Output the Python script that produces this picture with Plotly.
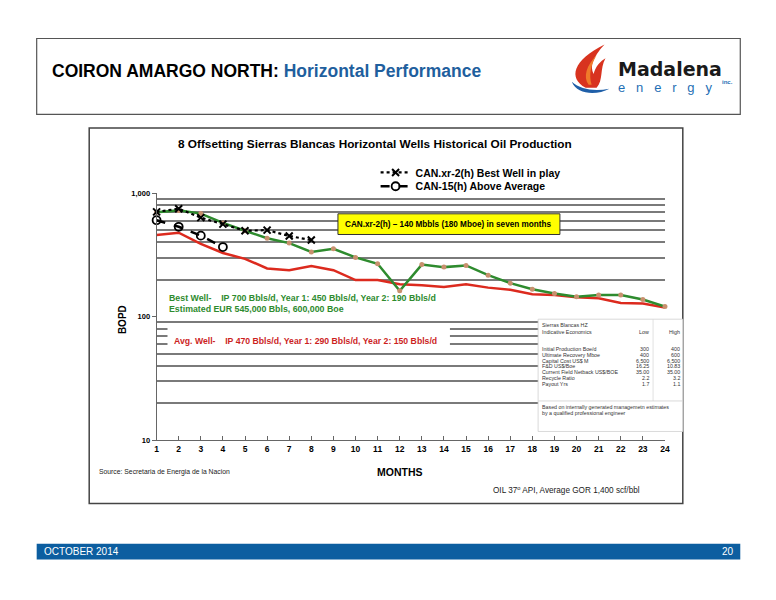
import plotly.graph_objects as go

W, H = 776, 600

months = list(range(1, 25))
best_well_green = [700, 725, 683, 574, 496, 432, 394, 334, 355, 302, 268, 162,
                   264, 252, 260, 217, 187, 167, 154, 145, 150, 150, 138, 121]
avg_well_red = [458, 478, 389, 328, 294, 246, 238, 257, 238, 198, 198, 183,
                180, 174, 183, 172, 165, 152, 150, 144, 141, 129, 128, 119]
can_xr2_months = [1, 2, 3, 4, 5, 6, 7, 8]
can_xr2 = [705, 748, 634, 561, 496, 502, 450, 417]
can15_months = [1, 2, 3, 4]
can15 = [604, 534, 453, 366]

ytick_vals = [10, 100, 1000]
ytick_text = ["10", "100", "1,000"]
minor_grid = [20, 30, 40, 50, 60, 70, 80, 90, 200, 300, 400, 500, 600, 700, 800, 900]

table_title = ["Sierras Blancas HZ", "Indicative Economics"]
table_cols = ["Low", "High"]
table_labels = ["Initial Production Boe/d", "Ultimate Recovery Mboe", "Capital Cost US$ M",
                "F&D US$/Boe", "Current Field Netback US$/BOE", "Recycle Ratio", "Payout Yrs"]
table_low = ["300", "400", "6,500", "16.25", "35.00", "2.2", "1.7"]
table_high = ["400", "600", "6,500", "10.83", "35.00", "3.2", "1.1"]
table_note = ["Based on internally generated managemetn estimates",
              "by a qualified professional engineer"]


def px(x):
    return x / W


def py(y):
    return 1 - y / H


GREEN = "#2e8b2e"
RED = "#dc2a1e"
BLUE = "#1f5f9e"

fig = go.Figure()
fig.add_trace(go.Scatter(x=months, y=avg_well_red, mode="lines",
                         line=dict(color=RED, width=2.5), showlegend=False,
                         cliponaxis=False))
fig.add_trace(go.Scatter(x=months, y=best_well_green, mode="lines+markers",
                         line=dict(color=GREEN, width=2.5),
                         marker=dict(color="#c8906e", size=5), showlegend=False,
                         cliponaxis=False))
fig.add_trace(go.Scatter(x=can_xr2_months, y=can_xr2, mode="lines+markers",
                         name="CAN.xr-2(h) Best Well in play", legend="legend",
                         line=dict(color="black", width=2.2, dash="dot"),
                         marker=dict(symbol="x-thin-open", size=7,
                                     line=dict(color="black", width=2)),
                         cliponaxis=False))
fig.add_trace(go.Scatter(x=can15_months, y=can15, mode="lines+markers",
                         name="CAN-15(h) Above Average", legend="legend2",
                         line=dict(color="black", width=2.5, dash="dash"),
                         marker=dict(symbol="circle-open", size=8,
                                     line=dict(color="black", width=1.8)),
                         cliponaxis=False))

shapes = []
# header box
shapes.append(dict(type="rect", xref="paper", yref="paper", x0=px(35), x1=px(745),
                   y0=py(112), y1=py(35), line=dict(color="#555", width=1.2),
                   fillcolor="rgba(0,0,0,0)", layer="below"))
# chart box
shapes.append(dict(type="rect", xref="paper", yref="paper", x0=px(88), x1=px(687),
                   y0=py(507), y1=py(126), line=dict(color="#444", width=1.5),
                   fillcolor="rgba(0,0,0,0)", layer="below"))
# footer bar
shapes.append(dict(type="rect", xref="paper", yref="paper", x0=px(35), x1=px(745),
                   y0=py(564), y1=py(548), line=dict(width=0),
                   fillcolor="#0c5ea0", layer="below"))


def path(points_cmd):
    out = []
    for tok in points_cmd:
        if isinstance(tok, str):
            out.append(tok)
        else:
            out.append(f"{px(tok[0]):.5f},{py(tok[1]):.5f}")
    return " ".join(out)


# logo flame
flame = path(["M", (589, 85), "C", (571, 75), (576, 57), (608, 41), "C", (596, 54),
              (593, 63), (597, 71), "C", (599, 63), (604, 58), (609, 55), "C",
              (603, 66), (607, 77), (600, 85), "Z"])
shapes.append(dict(type="path", xref="paper", yref="paper", path=flame,
                   fillcolor="#d8331f", line=dict(width=0)))
inner = path(["M", (592, 82), "C", (586, 74), (590, 62), (600, 52), "C", (594, 62),
              (592, 72), (595, 82), "Z"])
shapes.append(dict(type="path", xref="paper", yref="paper", path=inner,
                   fillcolor="#f07a2a", line=dict(width=0)))
swoosh = path(["M", (575, 79), "C", (580, 92), (600, 93), (613, 86), "C", (598, 89),
               (584, 87), (575, 79), "Z"])
shapes.append(dict(type="path", xref="paper", yref="paper", path=swoosh,
                   fillcolor="#1f5fa8", line=dict(width=0)))

# white box over the gridlines behind the average-well text
shapes.append(dict(type="rect", xref="paper", yref="paper", x0=px(167), x1=px(452),
                   y0=py(353), y1=py(326), line=dict(width=0), fillcolor="white",
                   layer="above"))
# yellow annotation box
shapes.append(dict(type="rect", xref="paper", yref="paper", x0=px(339), x1=px(563),
                   y0=py(234), y1=py(213), line=dict(color="#333", width=1),
                   fillcolor="#ffff00", layer="above"))
# table
shapes.append(dict(type="rect", xref="paper", yref="paper", x0=px(541), x1=px(687),
                   y0=py(434), y1=py(320), line=dict(color="#d0d0d0", width=0.8),
                   fillcolor="white", layer="above"))
shapes.append(dict(type="line", xref="paper", yref="paper", x0=px(657), x1=px(657),
                   y0=py(403), y1=py(320), line=dict(color="#d8d8d8", width=0.8),
                   layer="above"))
shapes.append(dict(type="line", xref="paper", yref="paper", x0=px(541), x1=px(687),
                   y0=py(403), y1=py(403), line=dict(color="#d0d0d0", width=0.8),
                   layer="above"))

ann = []


def text(x, y, t, size, color="black", anchor="left", family="Arial", bold=False,
         angle=0):
    ann.append(dict(xref="paper", yref="paper", x=px(x), y=py(y),
                    text=f"<b>{t}</b>" if bold else t,
                    showarrow=False, xanchor=anchor, yanchor="middle",
                    font=dict(size=size, color=color, family=family), textangle=angle))


text(48, 68, f"COIRON AMARGO NORTH: <span style='color:{BLUE}'>Horizontal Performance</span>",
     17.5, bold=True)
text(620, 66, "Madalena", 19, color="#1a1a1a", bold=True, family="DejaVu Sans")
text(620, 85, "e&nbsp;&nbsp;&nbsp;n&nbsp;&nbsp;&nbsp;e&nbsp;&nbsp;&nbsp;r&nbsp;&nbsp;&nbsp;g&nbsp;&nbsp;&nbsp;y",
     13, color="#1f6fb5", family="Arial")
text(725, 79, "inc.", 6, color="#1f6fb5", bold=True)
text(40, 556, "OCTOBER 2014", 10, color="white")
text(741, 556, "20", 10, color="white", anchor="right")

text(376, 142, "8 Offsetting Sierras Blancas Horizontal Wells Historical Oil Production", 11.8,
     anchor="center", bold=True)
text(451, 224, "CAN.xr-2(h) \u2013 140 Mbbls (180 Mboe) in seven months", 8.2,
     anchor="center", bold=True)
text(167, 298, "Best Well-&nbsp;&nbsp;&nbsp; IP 700 Bbls/d, Year 1: 450 Bbls/d, Year 2: 190 Bbls/d",
     8.8, color=GREEN, bold=True)
text(167, 310, "Estimated EUR 545,000 Bbls, 600,000 Boe", 8.8, color=GREEN, bold=True)
text(172, 342, "Avg. Well-&nbsp;&nbsp;&nbsp; IP 470 Bbls/d, Year 1: 290 Bbls/d, Year 2: 150 Bbls/d",
     8.7, color="#cc1f1f", bold=True)
text(121, 320, "BOPD", 10, anchor="center", bold=True, angle=-90)
text(402, 475, "MONTHS", 10.5, anchor="center", bold=True)
text(96, 475, "Source: Secretaria de Energia de la Nacion", 6.8, color="#222")
text(493, 493, "OIL 37<sup>o</sup> API, Average GOR 1,400 scf/bbl", 8.2, color="#222")

# table text
TS = 5.3
TC = "#333"
text(543, 326, table_title[0], TS, color=TC)
text(543, 333, table_title[1], TS, color=TC)
text(655, 333, table_cols[0], TS, color=TC, anchor="right")
text(686, 333, table_cols[1], TS, color=TC, anchor="right")
for i, (lab, lo, hi) in enumerate(zip(table_labels, table_low, table_high)):
    yy = 350 + i * 6
    text(543, yy, lab, TS, color=TC)
    text(655, yy, lo, TS, color=TC, anchor="right")
    text(686, yy, hi, TS, color=TC, anchor="right")
text(543, 409, table_note[0], TS, color=TC)
text(543, 415, table_note[1], TS, color=TC)

legend_common = dict(xanchor="left", yanchor="middle", bgcolor="rgba(0,0,0,0)",
                     font=dict(size=10.5, family="Arial", weight="bold"))

fig.update_layout(
    width=W, height=H, margin=dict(l=0, r=0, t=0, b=0),
    paper_bgcolor="white", plot_bgcolor="white",
    shapes=shapes, annotations=ann,
    font=dict(family="Arial", color="black"),
    showlegend=True,
    legend=dict(x=px(377), y=py(171), **legend_common),
    legend2=dict(x=px(377), y=py(185), **legend_common),
    xaxis=dict(domain=[px(156), px(669)], range=[1, 24], tickvals=months,
               showgrid=False, zeroline=False, showline=True, linecolor="#666",
               linewidth=1, ticks="inside", ticklen=4, tickcolor="#666",
               tickfont=dict(size=8.5, family="Arial", weight="bold")),
    yaxis=dict(domain=[py(443), py(192)], type="log", range=[1, 3],
               tickvals=ytick_vals, ticktext=ytick_text, showgrid=False,
               zeroline=False, showline=True, linecolor="#666", linewidth=1,
               ticks="outside", ticklen=4, tickcolor="#666",
               tickfont=dict(size=7.5, family="Arial", weight="bold"),
               minor=dict(tickvals=minor_grid, showgrid=True, gridcolor="#7a7a7a",
                          gridwidth=1.5, ticks="")),
)

fig.write_html("out.html", config={"displayModeBar": False},
               post_script="document.body.style.margin='0';document.body.style.overflow='hidden';")
